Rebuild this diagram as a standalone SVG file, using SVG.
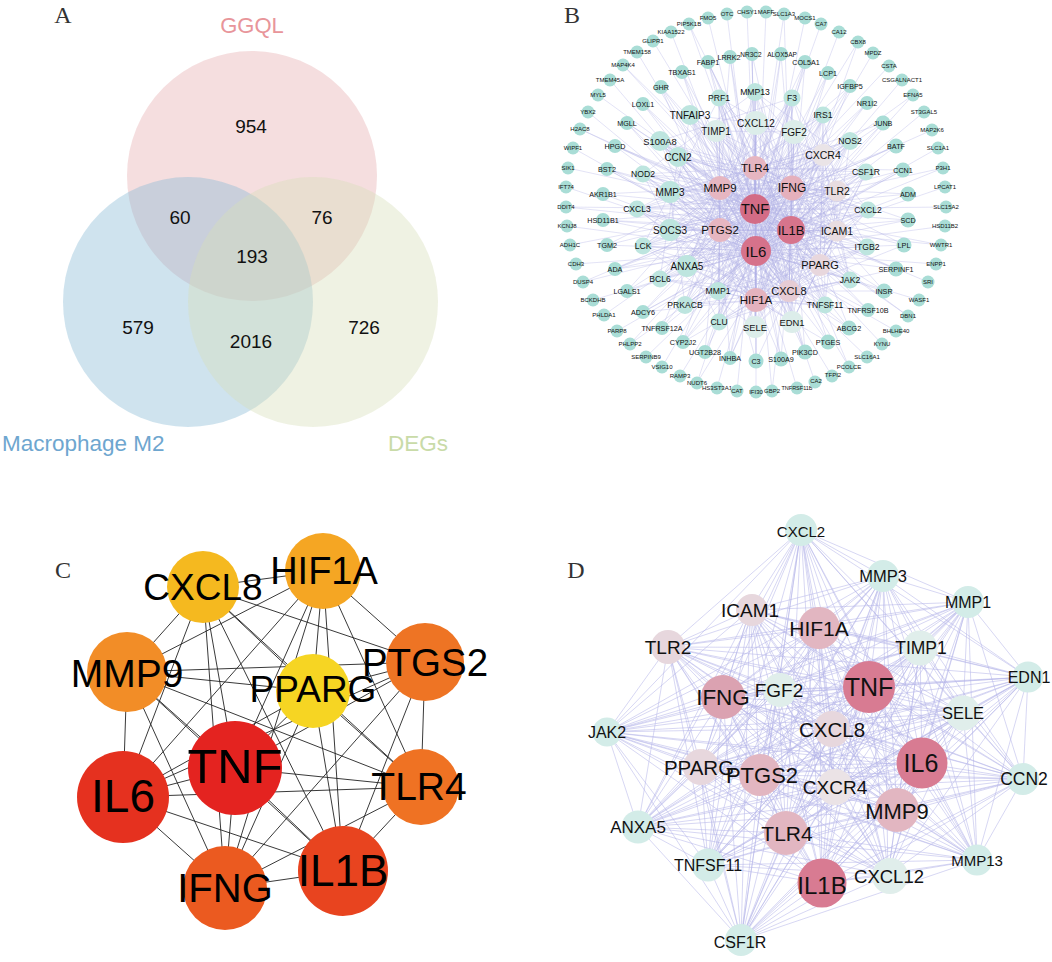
<svg xmlns="http://www.w3.org/2000/svg" width="1052" height="962" viewBox="0 0 1052 962">
<style>
text{font-family:"Liberation Sans",Arial,sans-serif;fill:#111;text-anchor:middle;dominant-baseline:central}
.pl{font-family:"Liberation Serif","Times New Roman",serif;font-size:24px;fill:#333;dominant-baseline:auto}
.num{font-size:19px;dominant-baseline:auto}
.eb path{fill:none;stroke:#b0b0e6;stroke-width:0.6;stroke-opacity:0.6;stroke-linejoin:round}
.ed path{fill:none;stroke:#b4b4e8;stroke-width:0.9;stroke-opacity:0.6}
.ec path{fill:none;stroke:#222;stroke-width:0.9}
.o{fill:#a9ddd6}.i{fill:#bde5df}.pa{fill:#dcedea}
.t6{font-size:6px}.t7{font-size:7.2px}.t8{font-size:8.6px}.t9{font-size:9.4px}.t10{font-size:10px}
.d1{fill:#d87b92}.d2{fill:#e2b6c1}.d3{fill:#e7d7dd}.d4{fill:#e0eeeb}.d5{fill:#d3ece8}
</style>
<rect width="1052" height="962" fill="#fff"/>

<!-- Panel A: Venn -->
<text class="pl" x="63" y="23">A</text>
<g id="venn">
<circle id="set-GGQL" cx="252" cy="176" r="125" fill="#e6acaf" fill-opacity="0.4"/>
<circle id="set-M2" cx="188" cy="302" r="125" fill="#87b9d4" fill-opacity="0.4"/>
<circle id="set-DEGs" cx="313" cy="302" r="125" fill="#d7deb9" fill-opacity="0.4"/>
<text x="252" y="33" style="font-size:22px;fill:#e8959a;dominant-baseline:auto">GGQL</text>
<text x="2" y="451" style="font-size:22.5px;fill:#6ea6cf;text-anchor:start;dominant-baseline:auto">Macrophage M2</text>
<text x="418" y="451" style="font-size:22.5px;fill:#c9dba8;dominant-baseline:auto">DEGs</text>
<text class="num" x="251" y="133">954</text>
<text class="num" x="180" y="224">60</text>
<text class="num" x="322" y="224">76</text>
<text class="num" x="252" y="263">193</text>
<text class="num" x="138" y="334">579</text>
<text class="num" x="251" y="348">2016</text>
<text class="num" x="364" y="334">726</text>
</g>

<!-- Panel B -->
<text class="pl" x="572" y="23">B</text>
<g id="b-edges" class="eb">
<path d="M755 209L716 131M755 209L756 123M755 209L794 132M755 209L690 115M755 209L719 98M755 209L755 92M755 209L792 98M755 209L823 115M755 209L850 141M755 209L866 172M755 209L868 210M755 209L867 247M755 209L850 280M755 209L825 305M755 209L792 322M755 209L755 327M755 209L719 322M755 209L718 291M755 209L685 305M755 209L687 266M755 209L660 279M755 209L643 246M755 209L670 230M755 209L637 209M755 209L670 192M755 209L643 174M755 209L678 157M755 209L660 141M755 209L661 87M755 209L682 72M755 209L708 62M755 209L730 57M755 209L752 54M755 209L781 54M755 209L805 62M755 209L828 73M755 209L850 86M755 209L867 103M755 209L883 123M755 209L896 146M755 209L903 170M755 209L908 194M755 209L908 220M755 209L904 245M755 209L896 269M755 209L884 291M755 209L868 310M755 209L849 328M755 209L828 342M755 209L805 352M755 209L781 359M755 209L756 361M755 209L730 358M755 209L705 352M755 209L683 342M755 209L662 328M755 209L643 312M755 209L627 291M755 209L615 269M755 209L607 245M755 209L603 220M755 209L603 194M755 209L607 169M755 209L615 146M755 209L627 123M755 209L643 104M755 209L689 24M755 209L653 41M755 209L623 65M755 209L598 95M755 209L580 129M755 209L568 168M755 209L566 207M755 209L570 245M755 209L583 282M755 209L604 315M755 209L630 344M755 209L662 367M755 209L697 383M755 209L737 391M755 209L772 391M755 209L815 382M755 209L849 367M755 209L882 344M755 209L908 316M755 209L928 282M755 209L941 245M755 209L946 207M755 209L943 168M755 209L932 130M755 209L913 95M755 209L889 66M755 209L858 42M755 209L821 24M755 209L784 14M755 209L747 12M755 209L708 18"/>
<path d="M756 251L716 131M756 251L756 123M756 251L794 132M756 251L690 115M756 251L719 98M756 251L755 92M756 251L792 98M756 251L823 115M756 251L850 141M756 251L866 172M756 251L868 210M756 251L867 247M756 251L850 280M756 251L825 305M756 251L792 322M756 251L755 327M756 251L719 322M756 251L718 291M756 251L685 305M756 251L687 266M756 251L660 279M756 251L643 246M756 251L670 230M756 251L637 209M756 251L670 192M756 251L643 174M756 251L678 157M756 251L660 141M756 251L661 87M756 251L682 72M756 251L708 62M756 251L730 57M756 251L752 54M756 251L781 54M756 251L805 62M756 251L828 73M756 251L850 86M756 251L867 103M756 251L883 123M756 251L896 146M756 251L903 170M756 251L908 194M756 251L908 220M756 251L904 245M756 251L896 269M756 251L884 291M756 251L868 310M756 251L849 328M756 251L828 342M756 251L805 352M756 251L781 359M756 251L756 361M756 251L730 358M756 251L705 352M756 251L683 342M756 251L662 328M756 251L643 312M756 251L627 291M756 251L615 269M756 251L607 245M756 251L603 220M756 251L603 194M756 251L607 169M756 251L615 146M756 251L627 123M756 251L643 104M756 251L671 32M756 251L637 52M756 251L610 80M756 251L588 112M756 251L573 148M756 251L566 187M756 251L567 226M756 251L576 264M756 251L593 300M756 251L617 331M756 251L646 357M756 251L680 376M756 251L717 388M756 251L756 392M756 251L797 388M756 251L832 376M756 251L867 357M756 251L896 331M756 251L919 300M756 251L936 264M756 251L945 226M756 251L945 187M756 251L938 148M756 251L924 112M756 251L902 80M756 251L873 53M756 251L839 32M756 251L805 18M756 251L766 12M756 251L727 14"/>
<path d="M791 230L716 131M791 230L756 123M791 230L794 132M791 230L690 115M791 230L719 98M791 230L755 92M791 230L792 98M791 230L823 115M791 230L850 141M791 230L866 172M791 230L868 210M791 230L867 247M791 230L850 280M791 230L825 305M791 230L792 322M791 230L755 327M791 230L719 322M791 230L718 291M791 230L685 305M791 230L687 266M791 230L660 279M791 230L643 246M791 230L670 230M791 230L637 209M791 230L670 192M791 230L643 174M791 230L678 157M791 230L660 141M791 230L661 87M791 230L708 62M791 230L752 54M791 230L805 62M791 230L850 86M791 230L883 123M791 230L903 170M791 230L908 220M791 230L896 269M791 230L868 310M791 230L828 342M791 230L781 359M791 230L730 358M791 230L683 342M791 230L643 312M791 230L615 269M791 230L603 220M791 230L607 169M791 230L627 123M791 230L689 24M791 230L623 65M791 230L580 129M791 230L566 207M791 230L583 282M791 230L630 344M791 230L697 383M791 230L772 391M791 230L849 367M791 230L908 316M791 230L941 245M791 230L943 168M791 230L913 95M791 230L858 42M791 230L784 14"/>
<path d="M792 188L716 131M792 188L756 123M792 188L794 132M792 188L690 115M792 188L719 98M792 188L755 92M792 188L792 98M792 188L823 115M792 188L850 141M792 188L866 172M792 188L868 210M792 188L867 247M792 188L850 280M792 188L825 305M792 188L792 322M792 188L755 327M792 188L719 322M792 188L718 291M792 188L685 305M792 188L687 266M792 188L660 279M792 188L643 246M792 188L670 230M792 188L637 209M792 188L670 192M792 188L643 174M792 188L678 157M792 188L660 141M792 188L781 54M792 188L828 73M792 188L867 103M792 188L896 146M792 188L908 194M792 188L904 245M792 188L884 291M792 188L849 328M792 188L805 352"/>
<path d="M720 188L716 131M720 188L756 123M720 188L794 132M720 188L690 115M720 188L719 98M720 188L755 92M720 188L792 98M720 188L823 115M720 188L850 141M720 188L866 172M720 188L868 210M720 188L867 247M720 188L850 280M720 188L825 305M720 188L792 322M720 188L755 327M720 188L719 322M720 188L718 291M720 188L685 305M720 188L687 266M720 188L660 279M720 188L643 246M720 188L670 230M720 188L637 209M720 188L670 192M720 188L643 174M720 188L678 157M720 188L660 141M720 188L682 72M720 188L730 57M720 188L643 104M720 188L615 146M720 188L603 194M720 188L607 245M720 188L627 291M720 188L662 328M720 188L705 352"/>
<path d="M720 230L716 131M720 230L756 123M720 230L794 132M720 230L690 115M720 230L719 98M720 230L755 92M720 230L792 98M720 230L823 115M720 230L850 141M720 230L866 172M720 230L868 210M720 230L867 247M720 230L850 280M720 230L825 305M720 230L792 322M720 230L755 327M720 230L719 322M720 230L718 291M720 230L685 305M720 230L687 266M720 230L660 279M720 230L643 246M720 230L670 230M720 230L637 209M720 230L670 192M720 230L643 174M720 230L678 157M720 230L660 141M720 230L661 87M720 230L627 123M720 230L607 169M720 230L603 220M720 230L615 269M720 230L643 312M720 230L683 342M720 230L730 358M720 230L756 361"/>
<path d="M755 168L716 131M755 168L756 123M755 168L794 132M755 168L690 115M755 168L719 98M755 168L755 92M755 168L792 98M755 168L823 115M755 168L850 141M755 168L866 172M755 168L868 210M755 168L867 247M755 168L850 280M755 168L825 305M755 168L792 322M755 168L755 327M755 168L719 322M755 168L718 291M755 168L685 305M755 168L687 266M755 168L660 279M755 168L643 246M755 168L670 230M755 168L637 209M755 168L670 192M755 168L643 174M755 168L678 157M755 168L660 141M755 168L708 62M755 168L752 54M755 168L805 62M755 168L850 86M755 168L883 123M755 168L903 170M755 168L908 220"/>
<path d="M756 300L716 131M756 300L756 123M756 300L794 132M756 300L690 115M756 300L719 98M756 300L755 92M756 300L792 98M756 300L823 115M756 300L850 141M756 300L866 172M756 300L868 210M756 300L867 247M756 300L850 280M756 300L825 305M756 300L792 322M756 300L755 327M756 300L719 322M756 300L718 291M756 300L685 305M756 300L687 266M756 300L660 279M756 300L643 246M756 300L670 230M756 300L637 209M756 300L670 192M756 300L643 174M756 300L678 157M756 300L660 141M756 300L781 359M756 300L828 342M756 300L868 310M756 300L896 269M756 300L730 358M756 300L683 342M756 300L643 312"/>
<path d="M789 291L716 131M789 291L756 123M789 291L794 132M789 291L690 115M789 291L719 98M789 291L755 92M789 291L792 98M789 291L823 115M789 291L850 141M789 291L866 172M789 291L868 210M789 291L867 247M789 291L850 280M789 291L825 305M789 291L792 322M789 291L755 327M789 291L719 322M789 291L718 291M789 291L685 305M789 291L687 266M789 291L660 279M789 291L643 246M789 291L670 230M789 291L637 209M789 291L670 192M789 291L643 174M789 291L678 157M789 291L660 141M789 291L756 361M789 291L805 352M789 291L849 328M789 291L884 291M789 291L904 245"/>
<path d="M820 265L716 131M820 265L794 132M820 265L823 115M820 265L866 172M820 265L868 210M820 265L867 247M820 265L850 280M820 265L825 305M820 265L792 322M820 265L755 327M820 265L685 305M820 265L643 246M820 265L670 192M820 265L678 157"/>
<path d="M837 231L756 123M837 231L792 98M837 231L850 141M837 231L868 210M837 231L850 280M837 231L792 322M837 231L719 322M837 231L687 266M837 231L670 230M837 231L643 174M837 231L660 141M837 231L718 291"/>
<path d="M837 191L716 131M837 191L755 92M837 191L823 115M837 191L866 172M837 191L867 247M837 191L825 305M837 191L755 327M837 191L685 305M837 191L660 279M837 191L637 209M837 191L678 157"/>
<path d="M823 155L756 123M823 155L719 98M823 155L792 98M823 155L850 141M823 155L868 210M823 155L850 280M823 155L792 322M823 155L718 291M823 155L670 230M823 155L670 192M823 155L643 246"/>
<path d="M755 209L756 251M755 209L791 230M755 209L792 188M755 209L720 188M755 209L720 230M755 209L755 168M755 209L756 300M755 209L789 291M755 209L820 265M755 209L837 231M755 209L837 191M755 209L823 155M756 251L791 230M756 251L792 188M756 251L720 188M756 251L720 230M756 251L755 168M756 251L756 300M756 251L789 291M756 251L820 265M756 251L837 231M756 251L837 191M756 251L823 155M791 230L792 188M791 230L720 188M791 230L720 230M791 230L755 168M791 230L756 300M791 230L789 291M791 230L820 265M791 230L837 231M791 230L837 191M791 230L823 155M792 188L720 188M792 188L720 230M792 188L755 168M792 188L756 300M792 188L789 291M792 188L820 265M792 188L837 231M792 188L837 191M792 188L823 155M720 188L720 230M720 188L755 168M720 188L756 300M720 188L789 291M720 188L820 265M720 188L837 231M720 188L837 191M720 188L823 155M720 230L755 168M720 230L756 300M720 230L789 291M720 230L820 265M720 230L837 231M720 230L837 191M720 230L823 155M755 168L756 300M755 168L789 291M755 168L820 265M755 168L837 231M755 168L837 191M755 168L823 155M756 300L789 291M756 300L820 265M756 300L837 231M756 300L837 191M756 300L823 155M789 291L820 265M789 291L837 231M789 291L837 191M789 291L823 155M820 265L837 231M820 265L837 191M820 265L823 155M837 231L837 191M837 231L823 155M837 191L823 155"/>
<path d="M716 131L794 132L850 280L719 322L643 174L755 92L866 172L792 322L637 209L823 115L825 305L660 279L678 157L868 210L685 305L670 192L850 141L755 327L643 246L719 98L867 247L718 291L660 141L792 98L687 266L756 123L690 115L670 230"/>
</g>

<g id="b-nodes">
<g id="b_PIP5K1B"><circle class="o" cx="689" cy="24" r="6.5"/><text class="t6" x="689" y="24">PIP5K1B</text></g>
<g id="b_KIAA1522"><circle class="o" cx="671" cy="32" r="6.5"/><text class="t6" x="671" y="32">KIAA1522</text></g>
<g id="b_GLIPR1"><circle class="o" cx="653" cy="41" r="6.5"/><text class="t6" x="653" y="41">GLIPR1</text></g>
<g id="b_TMEM158"><circle class="o" cx="637" cy="52" r="6.5"/><text class="t6" x="637" y="52">TMEM158</text></g>
<g id="b_MAP4K4"><circle class="o" cx="623" cy="65" r="6.5"/><text class="t6" x="623" y="65">MAP4K4</text></g>
<g id="b_TMEM45A"><circle class="o" cx="610" cy="80" r="6.5"/><text class="t6" x="610" y="80">TMEM45A</text></g>
<g id="b_MYL5"><circle class="o" cx="598" cy="95" r="6.5"/><text class="t6" x="598" y="95">MYL5</text></g>
<g id="b_YBX2"><circle class="o" cx="588" cy="112" r="6.5"/><text class="t6" x="588" y="112">YBX2</text></g>
<g id="b_H2AC8"><circle class="o" cx="580" cy="129" r="6.5"/><text class="t6" x="580" y="129">H2AC8</text></g>
<g id="b_WIPF1"><circle class="o" cx="573" cy="148" r="6.5"/><text class="t6" x="573" y="148">WIPF1</text></g>
<g id="b_SIK1"><circle class="o" cx="568" cy="168" r="6.5"/><text class="t6" x="568" y="168">SIK1</text></g>
<g id="b_IFT74"><circle class="o" cx="566" cy="187" r="6.5"/><text class="t6" x="566" y="187">IFT74</text></g>
<g id="b_DDIT4"><circle class="o" cx="566" cy="207" r="6.5"/><text class="t6" x="566" y="207">DDIT4</text></g>
<g id="b_KCNJ8"><circle class="o" cx="567" cy="226" r="6.5"/><text class="t6" x="567" y="226">KCNJ8</text></g>
<g id="b_ADH1C"><circle class="o" cx="570" cy="245" r="6.5"/><text class="t6" x="570" y="245">ADH1C</text></g>
<g id="b_CDH3"><circle class="o" cx="576" cy="264" r="6.5"/><text class="t6" x="576" y="264">CDH3</text></g>
<g id="b_DUSP4"><circle class="o" cx="583" cy="282" r="6.5"/><text class="t6" x="583" y="282">DUSP4</text></g>
<g id="b_BCKDHB"><circle class="o" cx="593" cy="300" r="6.5"/><text class="t6" x="593" y="300">BCKDHB</text></g>
<g id="b_PHLDA1"><circle class="o" cx="604" cy="315" r="6.5"/><text class="t6" x="604" y="315">PHLDA1</text></g>
<g id="b_PARP8"><circle class="o" cx="617" cy="331" r="6.5"/><text class="t6" x="617" y="331">PARP8</text></g>
<g id="b_PHLPP2"><circle class="o" cx="630" cy="344" r="6.5"/><text class="t6" x="630" y="344">PHLPP2</text></g>
<g id="b_SERPINB9"><circle class="o" cx="646" cy="357" r="6.5"/><text class="t6" x="646" y="357">SERPINB9</text></g>
<g id="b_VSIG10"><circle class="o" cx="662" cy="367" r="6.5"/><text class="t6" x="662" y="367">VSIG10</text></g>
<g id="b_RAMP3"><circle class="o" cx="680" cy="376" r="6.5"/><text class="t6" x="680" y="376">RAMP3</text></g>
<g id="b_NUDT6"><circle class="o" cx="697" cy="383" r="6.5"/><text class="t6" x="697" y="383">NUDT6</text></g>
<g id="b_HS3ST3A1"><circle class="o" cx="717" cy="388" r="6.5"/><text class="t6" x="717" y="388">HS3ST3A1</text></g>
<g id="b_CAT"><circle class="o" cx="737" cy="391" r="6.5"/><text class="t6" x="737" y="391">CAT</text></g>
<g id="b_IFI30"><circle class="o" cx="756" cy="392" r="6.5"/><text class="t6" x="756" y="392">IFI30</text></g>
<g id="b_GBP2"><circle class="o" cx="772" cy="391" r="6.5"/><text class="t6" x="772" y="391">GBP2</text></g>
<g id="b_TNFRSF11B"><circle class="o" cx="797" cy="388" r="6.5"/><text x="797" y="388" style="font-size:5.5px">TNFRSF11B</text></g>
<g id="b_CA2"><circle class="o" cx="815" cy="382" r="6.5"/><text class="t6" x="816" y="381">CA2</text></g>
<g id="b_TFPI2"><circle class="o" cx="832" cy="376" r="6.5"/><text class="t6" x="833" y="375">TFPI2</text></g>
<g id="b_PCOLCE"><circle class="o" cx="849" cy="367" r="6.5"/><text class="t6" x="849" y="367">PCOLCE</text></g>
<g id="b_SLC16A1"><circle class="o" cx="867" cy="357" r="6.5"/><text class="t6" x="867" y="357">SLC16A1</text></g>
<g id="b_KYNU"><circle class="o" cx="882" cy="344" r="6.5"/><text class="t6" x="882" y="344">KYNU</text></g>
<g id="b_BHLHE40"><circle class="o" cx="896" cy="331" r="6.5"/><text class="t6" x="896" y="331">BHLHE40</text></g>
<g id="b_DBN1"><circle class="o" cx="908" cy="316" r="6.5"/><text class="t6" x="908" y="316">DBN1</text></g>
<g id="b_WASF1"><circle class="o" cx="919" cy="300" r="6.5"/><text class="t6" x="919" y="300">WASF1</text></g>
<g id="b_SRI"><circle class="o" cx="928" cy="282" r="6.5"/><text class="t6" x="928" y="282">SRI</text></g>
<g id="b_ENPP1"><circle class="o" cx="936" cy="264" r="6.5"/><text class="t6" x="936" y="264">ENPP1</text></g>
<g id="b_WWTR1"><circle class="o" cx="941" cy="245" r="6.5"/><text class="t6" x="941" y="245">WWTR1</text></g>
<g id="b_HSD11B2"><circle class="o" cx="945" cy="226" r="6.5"/><text class="t6" x="945" y="226">HSD11B2</text></g>
<g id="b_SLC15A2"><circle class="o" cx="946" cy="207" r="6.5"/><text class="t6" x="946" y="207">SLC15A2</text></g>
<g id="b_LPCAT1"><circle class="o" cx="945" cy="187" r="6.5"/><text class="t6" x="945" y="187">LPCAT1</text></g>
<g id="b_P3H1"><circle class="o" cx="943" cy="168" r="6.5"/><text class="t6" x="943" y="168">P3H1</text></g>
<g id="b_SLC1A1"><circle class="o" cx="938" cy="148" r="6.5"/><text class="t6" x="938" y="148">SLC1A1</text></g>
<g id="b_MAP2K6"><circle class="o" cx="932" cy="130" r="6.5"/><text class="t6" x="932" y="130">MAP2K6</text></g>
<g id="b_ST3GAL5"><circle class="o" cx="924" cy="112" r="6.5"/><text class="t6" x="924" y="112">ST3GAL5</text></g>
<g id="b_EFNA5"><circle class="o" cx="913" cy="95" r="6.5"/><text class="t6" x="913" y="95">EFNA5</text></g>
<g id="b_CSGALNACT1"><circle class="o" cx="902" cy="80" r="6.5"/><text class="t6" x="902" y="80">CSGALNACT1</text></g>
<g id="b_CSTA"><circle class="o" cx="889" cy="66" r="6.5"/><text class="t6" x="889" y="66">CSTA</text></g>
<g id="b_MPDZ"><circle class="o" cx="873" cy="53" r="6.5"/><text class="t6" x="873" y="53">MPDZ</text></g>
<g id="b_CBX8"><circle class="o" cx="858" cy="42" r="6.5"/><text class="t6" x="858" y="42">CBX8</text></g>
<g id="b_CA12"><circle class="o" cx="839" cy="32" r="6.5"/><text class="t6" x="839" y="32">CA12</text></g>
<g id="b_CA7"><circle class="o" cx="821" cy="24" r="6.5"/><text class="t6" x="821" y="24">CA7</text></g>
<g id="b_MOCS1"><circle class="o" cx="805" cy="18" r="6.5"/><text class="t6" x="805" y="18">MOCS1</text></g>
<g id="b_SLC1A3"><circle class="o" cx="784" cy="14" r="6.5"/><text class="t6" x="784" y="14">SLC1A3</text></g>
<g id="b_MAFF"><circle class="o" cx="766" cy="12" r="6.5"/><text class="t6" x="766" y="12">MAFF</text></g>
<g id="b_CHSY1"><circle class="o" cx="747" cy="12" r="6.5"/><text class="t6" x="747" y="12">CHSY1</text></g>
<g id="b_OTC"><circle class="o" cx="727" cy="14" r="6.5"/><text class="t6" x="727" y="14">OTC</text></g>
<g id="b_FMO5"><circle class="o" cx="708" cy="18" r="6.5"/><text class="t6" x="708" y="18">FMO5</text></g>

<g id="b_GHR"><circle class="o" cx="661" cy="87" r="7"/><text class="t7" x="661" y="87">GHR</text></g>
<g id="b_TBXAS1"><circle class="o" cx="682" cy="72" r="7"/><text class="t7" x="682" y="72">TBXAS1</text></g>
<g id="b_FABP1"><circle class="o" cx="708" cy="62" r="7"/><text class="t7" x="708" y="62">FABP1</text></g>
<g id="b_LRRK2"><circle class="o" cx="730" cy="57" r="7"/><text class="t7" x="729" y="57">LRRK2</text></g>
<g id="b_NR3C2"><circle class="o" cx="752" cy="54" r="7"/><text x="751" y="54" style="font-size:6.5px">NR3C2</text></g>
<g id="b_ALOX5AP"><circle class="o" cx="781" cy="54" r="7"/><text x="782" y="54" style="font-size:6.5px">ALOX5AP</text></g>
<g id="b_COL5A1"><circle class="o" cx="805" cy="62" r="7"/><text class="t7" x="806" y="62">COL5A1</text></g>
<g id="b_LCP1"><circle class="o" cx="828" cy="73" r="7"/><text class="t7" x="828" y="73">LCP1</text></g>
<g id="b_IGFBP5"><circle class="o" cx="850" cy="86" r="7"/><text class="t7" x="850" y="86">IGFBP5</text></g>
<g id="b_NR1I2"><circle class="o" cx="867" cy="103" r="7"/><text class="t7" x="867" y="103">NR1I2</text></g>
<g id="b_JUNB"><circle class="o" cx="883" cy="123" r="7.5"/><text class="t7" x="883" y="123">JUNB</text></g>
<g id="b_BATF"><circle class="o" cx="896" cy="146" r="7.5"/><text class="t7" x="896" y="146">BATF</text></g>
<g id="b_CCN1"><circle class="o" cx="903" cy="170" r="7.5"/><text class="t7" x="903" y="170">CCN1</text></g>
<g id="b_ADM"><circle class="o" cx="908" cy="194" r="7.5"/><text class="t7" x="908" y="194">ADM</text></g>
<g id="b_SCD"><circle class="o" cx="908" cy="220" r="7.5"/><text class="t7" x="908" y="220">SCD</text></g>
<g id="b_LPL"><circle class="o" cx="904" cy="245" r="7.5"/><text class="t7" x="904" y="245">LPL</text></g>
<g id="b_SERPINF1"><circle class="o" cx="896" cy="269" r="7.5"/><text class="t7" x="896" y="269">SERPINF1</text></g>
<g id="b_INSR"><circle class="o" cx="884" cy="291" r="7.5"/><text class="t7" x="884" y="291">INSR</text></g>
<g id="b_TNFRSF10B"><circle class="o" cx="868" cy="310" r="7"/><text class="t7" x="868" y="310">TNFRSF10B</text></g>
<g id="b_ABCG2"><circle class="o" cx="849" cy="328" r="7.5"/><text class="t7" x="849" y="328">ABCG2</text></g>
<g id="b_PTGES"><circle class="o" cx="828" cy="342" r="7.5"/><text class="t7" x="828" y="342">PTGES</text></g>
<g id="b_PIK3CD"><circle class="o" cx="805" cy="352" r="7.5"/><text class="t7" x="805" y="352">PIK3CD</text></g>
<g id="b_S100A9"><circle class="o" cx="781" cy="359" r="7.5"/><text class="t7" x="781" y="359">S100A9</text></g>
<g id="b_C3"><circle class="o" cx="756" cy="361" r="7.5"/><text class="t7" x="756" y="361">C3</text></g>
<g id="b_INHBA"><circle class="o" cx="730" cy="358" r="7"/><text class="t7" x="730" y="358">INHBA</text></g>
<g id="b_UGT2B28"><circle class="o" cx="705" cy="352" r="7"/><text class="t7" x="705" y="352">UGT2B28</text></g>
<g id="b_CYP2J2"><circle class="o" cx="683" cy="342" r="7"/><text class="t7" x="683" y="342">CYP2J2</text></g>
<g id="b_TNFRSF12A"><circle class="o" cx="662" cy="328" r="7"/><text class="t7" x="662" y="328">TNFRSF12A</text></g>
<g id="b_ADCY6"><circle class="o" cx="643" cy="312" r="7"/><text class="t7" x="643" y="312">ADCY6</text></g>
<g id="b_LGALS1"><circle class="o" cx="627" cy="291" r="7"/><text class="t7" x="627" y="291">LGALS1</text></g>
<g id="b_ADA"><circle class="o" cx="615" cy="269" r="7"/><text class="t7" x="615" y="269">ADA</text></g>
<g id="b_TGM2"><circle class="o" cx="607" cy="245" r="7"/><text class="t7" x="607" y="245">TGM2</text></g>
<g id="b_HSD11B1"><circle class="o" cx="603" cy="220" r="7"/><text class="t7" x="603" y="220">HSD11B1</text></g>
<g id="b_AKR1B1"><circle class="o" cx="603" cy="194" r="7"/><text class="t7" x="603" y="194">AKR1B1</text></g>
<g id="b_BST2"><circle class="o" cx="607" cy="169" r="7"/><text class="t7" x="607" y="169">BST2</text></g>
<g id="b_HPGD"><circle class="o" cx="615" cy="146" r="7"/><text class="t7" x="615" y="146">HPGD</text></g>
<g id="b_MGLL"><circle class="o" cx="627" cy="123" r="7"/><text class="t7" x="627" y="123">MGLL</text></g>
<g id="b_LOXL1"><circle class="o" cx="643" cy="104" r="7"/><text class="t7" x="643" y="104">LOXL1</text></g>

<g id="b_TNFAIP3"><circle class="i" cx="690" cy="115" r="10"/><text class="t10" x="690" y="115">TNFAIP3</text></g>
<g id="b_S100A8"><circle class="i" cx="660" cy="141" r="10"/><text class="t9" x="660" y="141">S100A8</text></g>
<g id="b_CCN2"><circle class="i" cx="678" cy="157" r="10"/><text class="t10" x="678" y="157">CCN2</text></g>
<g id="b_TIMP1"><circle class="pa" cx="716" cy="131" r="11"/><text class="t10" x="716" y="131">TIMP1</text></g>
<g id="b_CXCL12"><circle class="pa" cx="756" cy="123" r="12"/><text class="t10" x="756" y="123">CXCL12</text></g>
<g id="b_FGF2"><circle class="pa" cx="794" cy="132" r="12"/><text class="t10" x="794" y="132">FGF2</text></g>
<g id="b_PRF1"><circle class="i" cx="719" cy="98" r="8.5"/><text class="t8" x="719" y="98">PRF1</text></g>
<g id="b_MMP13"><circle class="i" cx="755" cy="92" r="9"/><text class="t8" x="755" y="92">MMP13</text></g>
<g id="b_F3"><circle class="i" cx="792" cy="98" r="8.5"/><text class="t8" x="792" y="98">F3</text></g>
<g id="b_IRS1"><circle class="i" cx="823" cy="115" r="8.5"/><text class="t8" x="823" y="115">IRS1</text></g>
<g id="b_NOS2"><circle class="i" cx="850" cy="141" r="9"/><text class="t8" x="850" y="141">NOS2</text></g>
<g id="b_CSF1R"><circle class="i" cx="866" cy="172" r="8.5"/><text class="t8" x="866" y="172">CSF1R</text></g>
<g id="b_CXCL2"><circle class="i" cx="868" cy="210" r="8.5"/><text class="t8" x="868" y="210">CXCL2</text></g>
<g id="b_ITGB2"><circle class="i" cx="867" cy="247" r="8.5"/><text class="t8" x="867" y="247">ITGB2</text></g>
<g id="b_JAK2"><circle class="i" cx="850" cy="280" r="8.5"/><text class="t8" x="850" y="280">JAK2</text></g>
<g id="b_TNFSF11"><circle class="i" cx="825" cy="305" r="8.5"/><text class="t8" x="825" y="305">TNFSF11</text></g>
<g id="b_EDN1"><circle class="pa" cx="792" cy="322" r="11"/><text class="t9" x="792" y="322">EDN1</text></g>
<g id="b_SELE"><circle class="pa" cx="755" cy="327" r="11"/><text class="t9" x="755" y="327">SELE</text></g>
<g id="b_CLU"><circle class="i" cx="719" cy="322" r="8.5"/><text class="t8" x="719" y="322">CLU</text></g>
<g id="b_MMP1"><circle class="i" cx="718" cy="291" r="9"/><text class="t8" x="718" y="291">MMP1</text></g>
<g id="b_PRKACB"><circle class="i" cx="685" cy="305" r="9"/><text class="t8" x="685" y="305">PRKACB</text></g>
<g id="b_ANXA5"><circle class="i" cx="687" cy="266" r="11"/><text class="t10" x="687" y="266">ANXA5</text></g>
<g id="b_BCL6"><circle class="i" cx="660" cy="279" r="8.5"/><text class="t8" x="660" y="279">BCL6</text></g>
<g id="b_LCK"><circle class="i" cx="643" cy="246" r="8.5"/><text class="t8" x="643" y="246">LCK</text></g>
<g id="b_SOCS3"><circle class="i" cx="670" cy="230" r="11"/><text class="t10" x="670" y="230">SOCS3</text></g>
<g id="b_CXCL3"><circle class="i" cx="637" cy="209" r="8.5"/><text class="t8" x="637" y="209">CXCL3</text></g>
<g id="b_MMP3"><circle class="i" cx="670" cy="192" r="11"/><text class="t10" x="670" y="192">MMP3</text></g>
<g id="b_NOD2"><circle class="i" cx="643" cy="174" r="8.5"/><text class="t8" x="643" y="174">NOD2</text></g>

<g id="b_CXCR4"><circle cx="823" cy="155" r="11" fill="#eae4e7"/><text x="823" y="155" style="font-size:10.5px">CXCR4</text></g>
<g id="b_TLR2"><circle cx="837" cy="191" r="10.5" fill="#e8dde1"/><text x="837" y="191" style="font-size:10.5px">TLR2</text></g>
<g id="b_ICAM1"><circle cx="837" cy="231" r="10.5" fill="#e8dde1"/><text x="837" y="231" style="font-size:10.5px">ICAM1</text></g>
<g id="b_PPARG"><circle cx="820" cy="265" r="11" fill="#e8d7dd"/><text x="820" y="265" style="font-size:11px">PPARG</text></g>
<g id="b_CXCL8"><circle cx="789" cy="291" r="11" fill="#e6ccd4"/><text x="789" y="291" style="font-size:11px">CXCL8</text></g>
<g id="b_HIF1A"><circle cx="756" cy="300" r="12" fill="#e4b2be"/><text x="756" y="300" style="font-size:11.5px">HIF1A</text></g>
<g id="b_TLR4"><circle cx="755" cy="168" r="12" fill="#e6b6c1"/><text x="755" y="168" style="font-size:11.5px">TLR4</text></g>
<g id="b_MMP9"><circle cx="720" cy="188" r="12" fill="#e6b6c1"/><text x="720" y="188" style="font-size:11.5px">MMP9</text></g>
<g id="b_PTGS2"><circle cx="720" cy="230" r="12" fill="#e6b6c1"/><text x="720" y="230" style="font-size:11.5px">PTGS2</text></g>
<g id="b_IFNG"><circle cx="792" cy="188" r="12.5" fill="#e5b0bc"/><text x="792" y="188" style="font-size:12px">IFNG</text></g>
<g id="b_IL1B"><circle cx="791" cy="230" r="14" fill="#d7748c"/><text x="791" y="230" style="font-size:13px">IL1B</text></g>
<g id="b_IL6"><circle cx="756" cy="251" r="15" fill="#d6728b"/><text x="756" y="251" style="font-size:15px">IL6</text></g>
<g id="b_TNF"><circle cx="755" cy="209" r="15" fill="#d36c86"/><text x="755" y="209" style="font-size:14.5px">TNF</text></g>
</g>

<!-- Panel C -->
<text class="pl" x="63" y="578">C</text>
<g id="c-edges" class="ec">
<path d="M203 587L323 571M203 587L127 672M203 587L425 662M203 587L313 691M203 587L235 768M203 587L123 797M203 587L421 787M203 587L225 888M203 587L343 871M323 571L127 672M323 571L425 662M323 571L313 691M323 571L235 768M323 571L123 797M323 571L421 787M323 571L225 888M323 571L343 871M127 672L425 662M127 672L313 691M127 672L235 768M127 672L123 797M127 672L421 787M127 672L225 888M127 672L343 871M425 662L313 691M425 662L235 768M425 662L123 797M425 662L421 787M425 662L225 888M425 662L343 871M313 691L235 768M313 691L123 797M313 691L421 787M313 691L225 888M313 691L343 871M235 768L123 797M235 768L421 787M235 768L225 888M235 768L343 871M123 797L421 787M123 797L225 888M123 797L343 871M421 787L225 888M421 787L343 871M225 888L343 871"/>
</g>
<g id="c-nodes">
<g id="c_CXCL8"><circle cx="203" cy="587" r="36" fill="#f5b91f"/><text x="203" y="587" style="font-size:37px;fill:#000">CXCL8</text></g>
<g id="c_HIF1A"><circle cx="323" cy="571" r="38" fill="#f5a623"/><text x="324" y="571" style="font-size:38px;fill:#000">HIF1A</text></g>
<g id="c_MMP9"><circle cx="127" cy="672" r="40" fill="#f28d27"/><text x="127" y="673" style="font-size:39px;fill:#000">MMP9</text></g>
<g id="c_PTGS2"><circle cx="425" cy="662" r="39" fill="#ee7424"/><text x="425" y="662" style="font-size:38.5px;fill:#000">PTGS2</text></g>
<g id="c_PPARG"><circle cx="313" cy="691" r="37" fill="#f6d523"/><text x="313" y="689" style="font-size:37px;fill:#000">PPARG</text></g>
<g id="c_TNF"><circle cx="235" cy="768" r="47" fill="#e42320"/><text x="235" y="766" style="font-size:49px;fill:#000">TNF</text></g>
<g id="c_IL6"><circle cx="123" cy="797" r="46" fill="#e5311f"/><text x="123" y="796" style="font-size:46px;fill:#000">IL6</text></g>
<g id="c_TLR4"><circle cx="421" cy="787" r="38" fill="#ef7223"/><text x="419" y="786" style="font-size:39px;fill:#000">TLR4</text></g>
<g id="c_IFNG"><circle cx="225" cy="888" r="42" fill="#eb5a20"/><text x="225" y="888" style="font-size:40px;fill:#000">IFNG</text></g>
<g id="c_IL1B"><circle cx="343" cy="871" r="45" fill="#e8441f"/><text x="343" y="870" style="font-size:44px;fill:#000">IL1B</text></g>
</g>

<!-- Panel D -->
<text class="pl" x="576" y="578">D</text>
<g id="d-edges" class="ed">
<path d="M801 530L883 576M801 530L968 602M801 530L750 610M801 530L819 628M801 530L668 647M801 530L920 648M801 530L1028 677M801 530L869 687M801 530L723 697M801 530L778 690M801 530L963 713M801 530L832 728M801 530L607 732M801 530L922 763M801 530L701 767M801 530L760 775M801 530L834 787M801 530L1023 779M801 530L897 810M801 530L638 827M801 530L786 833M801 530L977 860M801 530L708 865M801 530L822 883M801 530L888 875M801 530L741 940"/>
<path d="M883 576L968 602M883 576L750 610M883 576L819 628M883 576L668 647M883 576L920 648M883 576L1028 677M883 576L869 687M883 576L723 697M883 576L778 690M883 576L963 713M883 576L832 728M883 576L607 732M883 576L922 763M883 576L701 767M883 576L760 775M883 576L834 787M883 576L1023 779M883 576L897 810M883 576L638 827M883 576L786 833M883 576L977 860M883 576L708 865M883 576L822 883M883 576L888 875M883 576L741 940"/>
<path d="M968 602L750 610M968 602L819 628M968 602L668 647M968 602L920 648M968 602L1028 677M968 602L869 687M968 602L723 697M968 602L778 690M968 602L963 713M968 602L832 728M968 602L607 732M968 602L922 763M968 602L701 767M968 602L760 775M968 602L834 787M968 602L1023 779M968 602L897 810M968 602L638 827M968 602L786 833M968 602L977 860M968 602L708 865M968 602L822 883M968 602L888 875M968 602L741 940"/>
<path d="M750 610L819 628M750 610L668 647M750 610L920 648M750 610L1028 677M750 610L869 687M750 610L723 697M750 610L778 690M750 610L963 713M750 610L832 728M750 610L607 732M750 610L922 763M750 610L701 767M750 610L760 775M750 610L834 787M750 610L1023 779M750 610L897 810M750 610L638 827M750 610L786 833M750 610L977 860M750 610L708 865M750 610L822 883M750 610L888 875M750 610L741 940"/>
<path d="M819 628L668 647M819 628L920 648M819 628L1028 677M819 628L869 687M819 628L723 697M819 628L778 690M819 628L963 713M819 628L832 728M819 628L607 732M819 628L922 763M819 628L701 767M819 628L760 775M819 628L834 787M819 628L1023 779M819 628L897 810M819 628L638 827M819 628L786 833M819 628L977 860M819 628L708 865M819 628L822 883M819 628L888 875M819 628L741 940"/>
<path d="M668 647L920 648M668 647L1028 677M668 647L869 687M668 647L723 697M668 647L778 690M668 647L963 713M668 647L832 728M668 647L607 732M668 647L922 763M668 647L701 767M668 647L760 775M668 647L834 787M668 647L1023 779M668 647L897 810M668 647L638 827M668 647L786 833M668 647L977 860M668 647L708 865M668 647L822 883M668 647L888 875M668 647L741 940"/>
<path d="M920 648L1028 677M920 648L869 687M920 648L723 697M920 648L778 690M920 648L963 713M920 648L832 728M920 648L607 732M920 648L922 763M920 648L701 767M920 648L760 775M920 648L834 787M920 648L1023 779M920 648L897 810M920 648L638 827M920 648L786 833M920 648L977 860M920 648L708 865M920 648L822 883M920 648L888 875M920 648L741 940"/>
<path d="M1028 677L869 687M1028 677L723 697M1028 677L778 690M1028 677L963 713M1028 677L832 728M1028 677L607 732M1028 677L922 763M1028 677L701 767M1028 677L760 775M1028 677L834 787M1028 677L1023 779M1028 677L897 810M1028 677L638 827M1028 677L786 833M1028 677L977 860M1028 677L708 865M1028 677L822 883M1028 677L888 875M1028 677L741 940"/>
<path d="M869 687L723 697M869 687L778 690M869 687L963 713M869 687L832 728M869 687L607 732M869 687L922 763M869 687L701 767M869 687L760 775M869 687L834 787M869 687L1023 779M869 687L897 810M869 687L638 827M869 687L786 833M869 687L977 860M869 687L708 865M869 687L822 883M869 687L888 875M869 687L741 940"/>
<path d="M723 697L778 690M723 697L963 713M723 697L832 728M723 697L607 732M723 697L922 763M723 697L701 767M723 697L760 775M723 697L834 787M723 697L1023 779M723 697L897 810M723 697L638 827M723 697L786 833M723 697L977 860M723 697L708 865M723 697L822 883M723 697L888 875M723 697L741 940"/>
<path d="M778 690L963 713M778 690L832 728M778 690L607 732M778 690L922 763M778 690L701 767M778 690L760 775M778 690L834 787M778 690L1023 779M778 690L897 810M778 690L638 827M778 690L786 833M778 690L977 860M778 690L708 865M778 690L822 883M778 690L888 875M778 690L741 940"/>
<path d="M963 713L832 728M963 713L607 732M963 713L922 763M963 713L701 767M963 713L760 775M963 713L834 787M963 713L1023 779M963 713L897 810M963 713L638 827M963 713L786 833M963 713L977 860M963 713L708 865M963 713L822 883M963 713L888 875M963 713L741 940"/>
<path d="M832 728L607 732M832 728L922 763M832 728L701 767M832 728L760 775M832 728L834 787M832 728L1023 779M832 728L897 810M832 728L638 827M832 728L786 833M832 728L977 860M832 728L708 865M832 728L822 883M832 728L888 875M832 728L741 940"/>
<path d="M607 732L922 763M607 732L701 767M607 732L760 775M607 732L834 787M607 732L1023 779M607 732L897 810M607 732L638 827M607 732L786 833M607 732L977 860M607 732L708 865M607 732L822 883M607 732L888 875M607 732L741 940"/>
<path d="M922 763L701 767M922 763L760 775M922 763L834 787M922 763L1023 779M922 763L897 810M922 763L638 827M922 763L786 833M922 763L977 860M922 763L708 865M922 763L822 883M922 763L888 875M922 763L741 940"/>
<path d="M701 767L760 775M701 767L834 787M701 767L1023 779M701 767L897 810M701 767L638 827M701 767L786 833M701 767L977 860M701 767L708 865M701 767L822 883M701 767L888 875M701 767L741 940"/>
<path d="M760 775L834 787M760 775L1023 779M760 775L897 810M760 775L638 827M760 775L786 833M760 775L977 860M760 775L708 865M760 775L822 883M760 775L888 875M760 775L741 940"/>
<path d="M834 787L1023 779M834 787L897 810M834 787L638 827M834 787L786 833M834 787L977 860M834 787L708 865M834 787L822 883M834 787L888 875M834 787L741 940"/>
<path d="M1023 779L897 810M1023 779L638 827M1023 779L786 833M1023 779L977 860M1023 779L708 865M1023 779L822 883M1023 779L888 875M1023 779L741 940"/>
<path d="M897 810L638 827M897 810L786 833M897 810L977 860M897 810L708 865M897 810L822 883M897 810L888 875M897 810L741 940"/>
<path d="M638 827L786 833M638 827L977 860M638 827L708 865M638 827L822 883M638 827L888 875M638 827L741 940"/>
<path d="M786 833L977 860M786 833L708 865M786 833L822 883M786 833L888 875M786 833L741 940"/>
<path d="M977 860L708 865M977 860L822 883M977 860L888 875M977 860L741 940M708 865L822 883M708 865L888 875M708 865L741 940M822 883L888 875M822 883L741 940M888 875L741 940"/>
</g>
<g id="d-nodes">
<g id="d_CXCL2"><circle class="d5" cx="801" cy="530" r="16"/><text x="801" y="531" style="font-size:15px">CXCL2</text></g>
<g id="d_MMP3"><circle class="d5" cx="883" cy="576" r="16"/><text x="883" y="576" style="font-size:16.5px">MMP3</text></g>
<g id="d_MMP1"><circle class="d5" cx="968" cy="602" r="16"/><text x="968" y="602" style="font-size:16px">MMP1</text></g>
<g id="d_ICAM1"><circle class="d3" cx="752" cy="610" r="16"/><text x="750" y="610" style="font-size:19px">ICAM1</text></g>
<g id="d_HIF1A"><circle class="d2" cx="819" cy="628" r="21"/><text x="819" y="628" style="font-size:21px">HIF1A</text></g>
<g id="d_TLR2"><circle class="d3" cx="668" cy="647" r="17"/><text x="668" y="647" style="font-size:19px">TLR2</text></g>
<g id="d_TIMP1"><circle class="d4" cx="920" cy="648" r="17.5"/><text x="921" y="648" style="font-size:17.5px">TIMP1</text></g>
<g id="d_EDN1"><circle class="d5" cx="1028" cy="677" r="15.5"/><text x="1029" y="677" style="font-size:16px">EDN1</text></g>
<g id="d_TNF"><circle class="d1" cx="869" cy="687" r="26"/><text x="869" y="687" style="font-size:25px">TNF</text></g>
<g id="d_FGF2"><circle class="d4" cx="780" cy="690" r="17"/><text x="779" y="690" style="font-size:19px">FGF2</text></g>
<g id="d_IFNG"><circle cx="723" cy="697" r="22" fill="#dba2b1"/><text x="723" y="697" style="font-size:22.5px">IFNG</text></g>
<g id="d_SELE"><circle class="d4" cx="963" cy="713" r="17.5"/><text x="963" y="713" style="font-size:16.5px">SELE</text></g>
<g id="d_CXCL8"><circle class="d3" cx="832" cy="729" r="18"/><text x="832" y="729" style="font-size:20.5px">CXCL8</text></g>
<g id="d_JAK2"><circle class="d5" cx="607" cy="732" r="14.5"/><text x="607" y="732" style="font-size:16px">JAK2</text></g>
<g id="d_IL6"><circle class="d1" cx="922" cy="763" r="25.5"/><text x="921" y="763" style="font-size:25px">IL6</text></g>
<g id="d_PPARG"><circle class="d3" cx="701" cy="767" r="18"/><text x="699" y="767" style="font-size:20.5px">PPARG</text></g>
<g id="d_PTGS2"><circle class="d2" cx="760" cy="775" r="21"/><text x="762" y="775" style="font-size:22px">PTGS2</text></g>
<g id="d_CXCR4"><circle cx="835" cy="787" r="18" fill="#ebe3e6"/><text x="835" y="787" style="font-size:19px">CXCR4</text></g>
<g id="d_CCN2"><circle class="d5" cx="1023" cy="779" r="16"/><text x="1024" y="779" style="font-size:17.5px">CCN2</text></g>
<g id="d_MMP9"><circle class="d2" cx="897" cy="810" r="22"/><text x="897" y="811" style="font-size:22px">MMP9</text></g>
<g id="d_ANXA5"><circle class="d5" cx="638" cy="827" r="16.5"/><text x="638" y="827" style="font-size:17px">ANXA5</text></g>
<g id="d_TLR4"><circle class="d2" cx="786" cy="833" r="22"/><text x="787" y="833" style="font-size:21px">TLR4</text></g>
<g id="d_MMP13"><circle class="d5" cx="977" cy="860" r="15.5"/><text x="977" y="860" style="font-size:15px">MMP13</text></g>
<g id="d_TNFSF11"><circle class="d5" cx="708" cy="865" r="16.5"/><text x="708" y="865" style="font-size:16px">TNFSF11</text></g>
<g id="d_CXCL12"><circle class="d4" cx="890" cy="876" r="18"/><text x="889" y="876" style="font-size:18.5px">CXCL12</text></g>
<g id="d_IL1B"><circle class="d1" cx="822" cy="883" r="24.5"/><text x="822" y="885" style="font-size:24px">IL1B</text></g>
<g id="d_CSF1R"><circle class="d5" cx="741" cy="940" r="16"/><text x="740" y="942" style="font-size:16px">CSF1R</text></g>
</g>
</svg>
